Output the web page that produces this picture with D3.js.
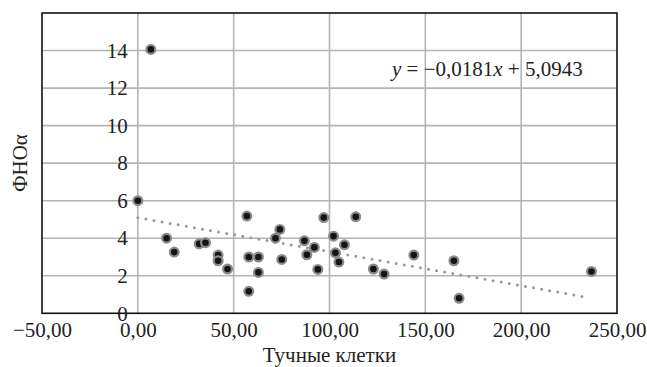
<!DOCTYPE html>
<html><head><meta charset="utf-8">
<script src="https://cdn.jsdelivr.net/npm/d3@7"></script>
<style>body{margin:0;background:#fff}svg{display:block}</style>
</head><body>
<svg id="c" width="647" height="367"></svg>
<script>
const mastCells = [0, 6.8, 15, 19, 32, 35.3, 41.9, 41.9, 46.8, 56.9, 57.9, 57.9, 62.9, 62.9, 71.8, 74.1, 75.1, 86.9, 88.2, 92.1, 93.9, 97.0, 102.1, 103.1, 104.9, 107.8, 113.7, 122.9, 128.5, 144.0, 164.9, 167.6, 236.7];
const tnfAlpha = [6.0, 14.06, 4.0, 3.26, 3.7, 3.76, 3.1, 2.8, 2.36, 5.18, 3.0, 1.17, 3.0, 2.18, 4.0, 4.47, 2.87, 3.86, 3.12, 3.51, 2.34, 5.1, 4.11, 3.22, 2.73, 3.65, 5.14, 2.36, 2.09, 3.1, 2.8, 0.8, 2.23];
const xTicks = [-50, 0, 50, 100, 150, 200, 250];
const yTicks = [0, 2, 4, 6, 8, 10, 12, 14];
const slope = -0.0181, intercept = 5.0943;
const xTitle = "Тучные клетки";
const yTitle = "ФНОα";

const svg = d3.select("#c");
const L = 42, R = 617, T = 13, B = 313.3;
const x = d3.scaleLinear().domain([-50, 250]).range([L, R]);
const y = d3.scaleLinear().domain([0, 16]).range([B, T]);
const font = '"Liberation Serif"';
const fs = "21px";
const fmtX = d => (d < 0 ? "\u2212" : "") + Math.abs(d).toFixed(2).replace(".", ",");

// grid
const grid = svg.append("g").attr("stroke", "#b4b4b4").attr("stroke-width", 1.6);
grid.selectAll("line.v").data(xTicks.filter(d => d > -50 && d < 250)).join("line")
  .attr("x1", d => x(d)).attr("x2", d => x(d)).attr("y1", T).attr("y2", B);
grid.selectAll("line.h").data(yTicks.filter(d => d > 0)).join("line")
  .attr("x1", L).attr("x2", R).attr("y1", d => y(d)).attr("y2", d => y(d));

// border
svg.append("rect").attr("x", L).attr("y", T).attr("width", R - L).attr("height", B - T)
  .attr("fill", "none").attr("stroke", "#111").attr("stroke-width", 1.6);

// x axis labels
const xa = svg.append("g").attr("transform", `translate(0,${B})`)
  .call(d3.axisBottom(x).tickValues(xTicks).tickFormat(fmtX).tickSize(0).tickPadding(8.5));
xa.select(".domain").remove();
xa.selectAll("text").style("font-family", font).style("font-size", fs).attr("fill", "#222");

// y axis labels at x = 0
const ya = svg.append("g").attr("transform", `translate(${x(0)},0)`)
  .call(d3.axisLeft(y).tickValues(yTicks).tickFormat(d => d).tickSize(0).tickPadding(10));
ya.select(".domain").remove();
ya.selectAll("text").style("font-family", font).style("font-size", fs).attr("fill", "#222");

// trend line
const xMin = d3.min(mastCells), xMax = d3.max(mastCells);
svg.append("line")
  .attr("x1", x(xMin)).attr("y1", y(slope * xMin + intercept))
  .attr("x2", x(xMax - 3)).attr("y2", y(slope * (xMax - 3) + intercept))
  .attr("stroke", "#999").attr("stroke-width", 3).attr("stroke-linecap", "round")
  .attr("stroke-dasharray", "0,8.2");

// points
svg.append("g").selectAll("circle").data(mastCells.map((d, i) => [d, tnfAlpha[i]])).join("circle")
  .attr("cx", d => x(d[0])).attr("cy", d => y(d[1])).attr("r", 4.4)
  .attr("fill", "#151515").attr("stroke", "#8a8a8a").attr("stroke-width", 2.2);

// equation
const eq = svg.append("text").attr("x", 392).attr("y", 76)
  .style("font-family", font).style("font-size", fs).attr("fill", "#222");
eq.append("tspan").attr("font-style", "italic").text("y");
eq.append("tspan").text(" = \u2212" + Math.abs(slope).toFixed(4).replace(".", ",") );
eq.append("tspan").attr("font-style", "italic").text("x");
eq.append("tspan").text(" + " + intercept.toFixed(4).replace(".", ","));

// titles
svg.append("text").attr("x", (L + R) / 2).attr("y", 362).attr("text-anchor", "middle")
  .style("font-family", font).style("font-size", fs).attr("fill", "#222").text(xTitle);
svg.append("text").attr("transform", `translate(27,${(T + B) / 2}) rotate(-90)`)
  .attr("text-anchor", "middle")
  .style("font-family", font).style("font-size", fs).attr("fill", "#222").text(yTitle);
</script>
</body></html>
